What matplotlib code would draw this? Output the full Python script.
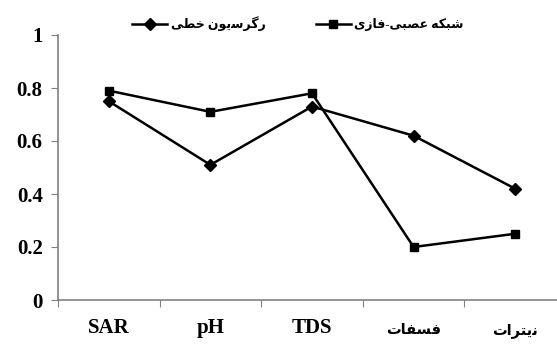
import matplotlib
matplotlib.use("Agg")
import matplotlib.pyplot as plt
from matplotlib.transforms import ScaledTranslation

# Persian labels written as shaped presentation forms in visual (left-to-right) order,
# since matplotlib does no Arabic shaping / bidi on its own
cat_phosphate = "\uFE95\uFE8E\uFED4\uFEB4\uFED3"          # فسفات
cat_nitrate = "\uFE95\uFE8D\uFEAE\uFE98\uFBFE\uFEE7"      # نیترات
lbl_regression = "\uFBFD\uFEC4\uFEA7 \uFEE5\uFEEE\uFBFE\uFEB3\uFEAE\uFB94\uFEAD"   # رگرسیون خطی
lbl_anfis = "\uFBFC\uFEAF\uFE8E\uFED3-\uFBFD\uFE92\uFEBC\uFECB \uFEEA\uFB91\uFE92\uFEB7"  # شبکه عصبی-فازی

categories = ["SAR", "pH", "TDS", cat_phosphate, cat_nitrate]
regression = [0.75, 0.51, 0.73, 0.62, 0.42]
anfis = [0.79, 0.71, 0.78, 0.20, 0.25]
y_ticks = [0, 0.2, 0.4, 0.6, 0.8, 1]
y_tick_labels = ["0", "0.2", "0.4", "0.6", "0.8", "1"]

fonts = ["Liberation Serif", "DejaVu Sans"]
plt.rcParams["font.family"] = fonts

fig = plt.figure(figsize=(5.57, 3.45), dpi=100)
ax = fig.add_axes([58 / 557, 45 / 345, 508 / 557, 265 / 345])

x = list(range(len(categories)))
ax.plot(x, regression, color="black", lw=1.8, marker="D", ms=6.5,
        label=lbl_regression)
ax.plot(x, anfis, color="black", lw=1.8, marker="s", ms=6,
        label=lbl_anfis)

ax.set_xlim(-0.5, len(categories) - 0.5)
ax.set_ylim(0, 1)

# ticks between categories, labels centred on them (Excel style)
ax.set_xticks([i - 0.5 for i in range(len(categories) + 1)])
ax.set_xticklabels([])
ax.set_xticks(x, minor=True)
ax.set_xticklabels(categories, minor=True, fontsize=15, fontweight="bold")
ax.tick_params(axis="x", which="minor", length=0, pad=13)
ax.tick_params(axis="x", which="major", length=5, color="#808080", direction="out")

# Persian labels: smaller and sitting a bit lower
for lab in ax.get_xticklabels(minor=True)[3:]:
    lab.set_fontsize(10.5)
    lab.set_transform(lab.get_transform() + ScaledTranslation(0, -4 / 72, fig.dpi_scale_trans))

ax.set_yticks(y_ticks)
ax.set_yticklabels(y_tick_labels, fontsize=15, fontweight="bold")
ax.tick_params(axis="y", length=5, color="#808080", pad=6)

for s in ["top", "right"]:
    ax.spines[s].set_visible(False)
for s in ["left", "bottom"]:
    ax.spines[s].set_color("#808080")
    ax.spines[s].set_linewidth(1.2)

fig.legend(loc="center", bbox_to_anchor=(298 / 557, 1 - 24 / 345), ncol=2,
           frameon=False, handlelength=2.8, handletextpad=0.3,
           columnspacing=4.0, prop={"family": fonts, "weight": "bold", "size": 9})

fig.savefig("out.png", dpi=100)
